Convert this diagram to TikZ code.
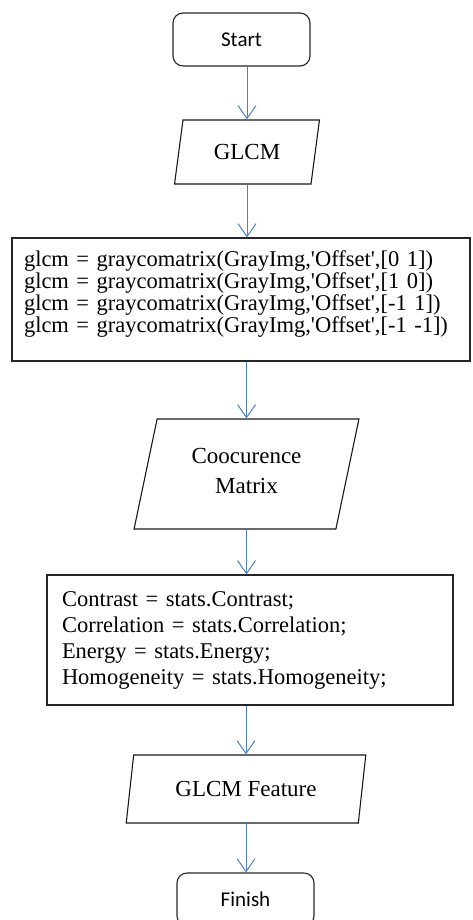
\documentclass[tikz,border=0pt]{standalone}
\usepackage{fontspec}
\setmainfont{Liberation Serif}[Ligatures=TeXOff]
\newfontfamily\calibrifont{Carlito}
\usetikzlibrary{shapes.geometric,arrows.meta}
\definecolor{flowblue}{HTML}{4F81BD}

\tikzset{
  terminal/.style={draw=black!85, line width=1.1pt, rounded corners=10pt,
    minimum width=137pt, minimum height=53pt,
    font=\calibrifont\fontsize{21}{24}\selectfont},
  iodata/.style={draw=black!90, line width=1.1pt, trapezium, trapezium stretches=true,
    align=center, font=\fontsize{23}{30}\selectfont},
  codebox/.style={draw=black!85, line width=1.1pt, rectangle, align=left, inner ysep=0pt},
  flow/.style={draw=flowblue, line width=1pt, -{Straight Barb[length=13pt,width=18pt,line width=1pt]}}
}

\begin{document}
\begin{tikzpicture}[x=1pt,y=-1pt]
\useasboundingbox (0,0) rectangle (472,920);

\node[terminal] (start) at (241.5,39.5) {Start};
\node[iodata, trapezium left angle=77.7, trapezium right angle=102.3,
  minimum width=146pt, minimum height=64pt] (glcm) at (247,152) {GLCM};

% offsets for the four directions
\node[codebox, minimum height=123pt, text width=434pt, inner xsep=12pt, text depth=81pt,
  font=\fontsize{22.5}{21.7}\selectfont] (offsets) at (241,299.5)
  {glcm = graycomatrix(GrayImg,'Offset',[0 1])\\
   glcm = graycomatrix(GrayImg,'Offset',[1 0])\\
   glcm = graycomatrix(GrayImg,'Offset',[-1 1])\\
   glcm = graycomatrix(GrayImg,'Offset',[-1 -1])};

\node[iodata, trapezium left angle=75.7, trapezium right angle=104.3, text depth=7pt,
  minimum width=225pt, minimum height=110pt] (cooc) at (246.5,474)
  {Coocurence\\Matrix};

\node[codebox, minimum height=130pt, text width=376pt, inner xsep=15pt,
  font=\fontsize{22.5}{26}\selectfont] (stats) at (250,640)
  {Contrast = stats.Contrast;\\
   Correlation = stats.Correlation;\\
   Energy = stats.Energy;\\
   Homogeneity = stats.Homogeneity;};

\node[iodata, trapezium left angle=77.5, trapezium right angle=102.5,
  minimum width=240pt, minimum height=68pt] (feature) at (246,789) {GLCM Feature};
\node[terminal] (finish) at (245.5,899.5) {Finish};

% arrows
\draw[flow] (start.south -| glcm.north) -- (glcm.north);
\draw[flow] (glcm.south) -- (glcm.south |- offsets.north);
\draw[flow] (offsets.south -| cooc.north) -- (cooc.north);
\draw[flow] (cooc.south) -- (cooc.south |- stats.north);
\draw[flow] (stats.south -| feature.north) -- (feature.north);
\draw[flow] (feature.south) -- (feature.south |- finish.north);

\end{tikzpicture}
\end{document}
